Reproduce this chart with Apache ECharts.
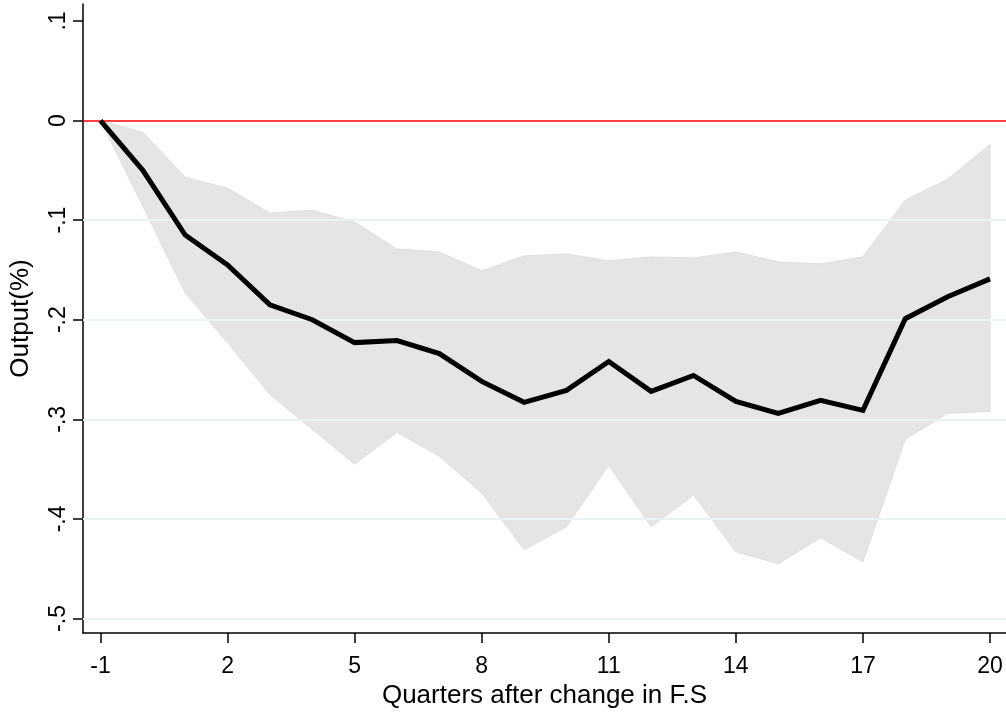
<!DOCTYPE html>
<html>
<head>
<meta charset="utf-8">
<script src="https://cdn.jsdelivr.net/npm/echarts@6/dist/echarts.min.js"></script>
<style>html,body{margin:0;padding:0;background:#fff;}#c{width:1006px;height:714px;}</style>
</head>
<body>
<div id="c"></div>
<script>
const quarters = [-1,0,1,2,3,4,5,6,7,8,9,10,11,12,13,14,15,16,17,18,19,20];
const irf   = [0,-0.050,-0.115,-0.145,-0.185,-0.200,-0.223,-0.221,-0.234,-0.262,-0.283,-0.271,-0.242,-0.272,-0.256,-0.282,-0.294,-0.281,-0.291,-0.199,-0.177,-0.159];
const upper = [0,-0.012,-0.057,-0.068,-0.093,-0.090,-0.102,-0.129,-0.132,-0.151,-0.136,-0.134,-0.141,-0.137,-0.138,-0.132,-0.142,-0.144,-0.137,-0.080,-0.059,-0.024];
const lower = [0,-0.086,-0.173,-0.223,-0.275,-0.310,-0.345,-0.313,-0.337,-0.374,-0.431,-0.408,-0.346,-0.408,-0.376,-0.433,-0.445,-0.419,-0.443,-0.320,-0.294,-0.292];
const xTicks = [-1,2,5,8,11,14,17,20];
const yTicks = [-0.5,-0.4,-0.3,-0.2,-0.1,0,0.1];
const yTickLabels = ['-.5','-.4','-.3','-.2','-.1','0','.1'];
const gridValues = [-0.1,-0.2,-0.3,-0.4,-0.5];

const chart = echarts.init(document.getElementById('c'), null, {renderer:'canvas'});
const FONT = 'Liberation Sans';
const bandData = quarters.map((q,i)=>[q, upper[i], lower[i]]);

chart.setOption({
  animation:false,
  backgroundColor:'#ffffff',
  grid:{left:83, right:0, top:4, bottom:81, containLabel:false, outerBoundsMode:'none'},
  xAxis:{
    type:'value', min:-1.413, max:20.378,
    name:'Quarters after change in F.S', nameLocation:'middle', nameGap:49,
    nameTextStyle:{fontFamily:FONT, fontSize:26, color:'#000', verticalAlign:'top'},
    axisLine:{show:true, onZero:false, lineStyle:{color:'#000', width:1.5}},
    axisTick:{show:true, length:10, customValues:xTicks, lineStyle:{color:'#000', width:1.5}},
    axisLabel:{customValues:xTicks, fontFamily:FONT, fontSize:23, color:'#000', margin:22},
    splitLine:{show:false}
  },
  yAxis:{
    type:'value', min:-0.5146, max:0.117,
    name:'Output(%)', nameLocation:'middle', nameGap:49, nameRotate:90,
    nameTextStyle:{fontFamily:FONT, fontSize:26, color:'#000'},
    axisLine:{show:true, onZero:false, lineStyle:{color:'#000', width:1.5}},
    axisTick:{show:true, length:10, customValues:yTicks, lineStyle:{color:'#000', width:1.5}},
    axisLabel:{customValues:yTicks, rotate:90, fontFamily:FONT, fontSize:23, color:'#000', margin:13,
      formatter:function(v){ const i = yTicks.findIndex(t=>Math.abs(t-v)<1e-6); return i>=0?yTickLabels[i]:''; }},
    splitLine:{show:false}
  },
  series:[
    {
      type:'custom', z:1, silent:true,
      data:bandData,
      renderItem:function(params, api){
        if(params.dataIndex!==0) return;
        const pts=[];
        for(let i=0;i<bandData.length;i++) pts.push(api.coord([bandData[i][0], bandData[i][1]]));
        for(let i=bandData.length-1;i>=0;i--) pts.push(api.coord([bandData[i][0], bandData[i][2]]));
        return {type:'polygon', shape:{points:pts}, style:{fill:'#e5e5e5', stroke:'#dedede', lineWidth:1}};
      },
      markLine:{
        silent:true, symbol:'none', label:{show:false},
        lineStyle:{color:'#eaf2f3', width:2, type:'solid'},
        data: gridValues.map(v=>({yAxis:v}))
      },
      encode:{x:0, y:[1,2]}
    },
    {
      type:'line', z:5, silent:true,
      data: quarters.map((q,i)=>[q, irf[i]]),
      symbol:'none',
      lineStyle:{color:'#000', width:5, join:'miter'},
      markLine:{
        silent:true, symbol:'none', label:{show:false},
        lineStyle:{color:'#ff0000', width:1.5, type:'solid'},
        data:[{yAxis:0}]
      }
    }
  ]
});
</script>
</body>
</html>
